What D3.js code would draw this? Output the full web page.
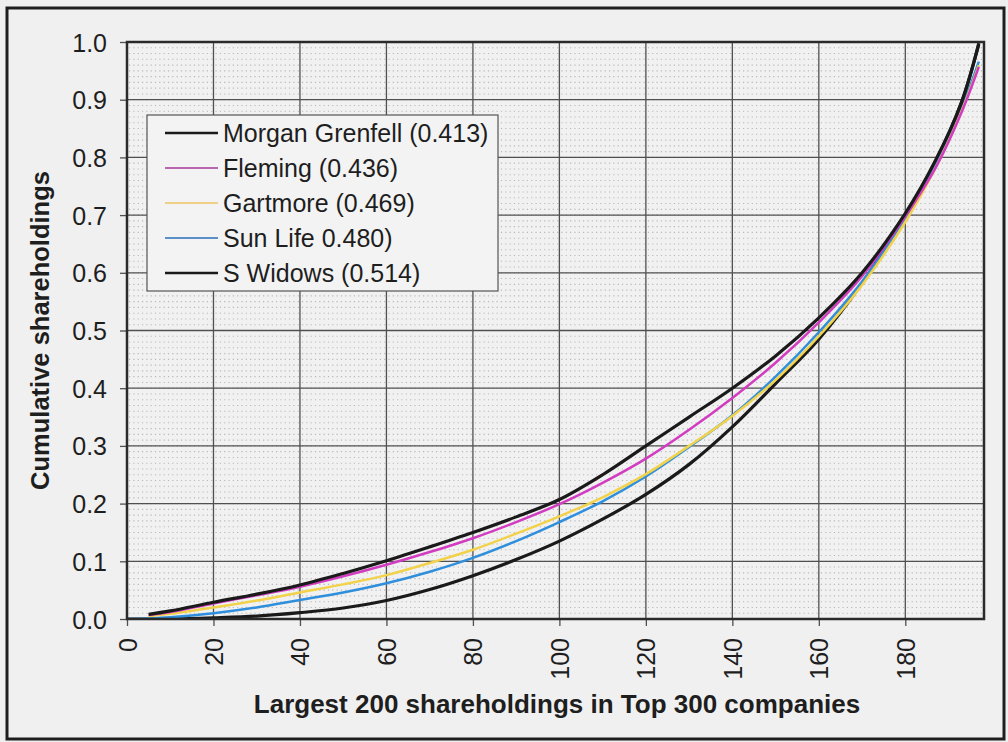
<!DOCTYPE html>
<html>
<head>
<meta charset="utf-8">
<script src="https://cdn.jsdelivr.net/npm/d3@7"></script>
<style>
  html, body { margin: 0; padding: 0; background: #efefef; }
  svg { display: block; font-family: "Liberation Sans", Arial, sans-serif; }
</style>
</head>
<body>
<svg id="chart" width="1008" height="742"></svg>
<script>
// Position in the ranking of the largest 200 shareholdings
const positions = [0, 5, 10, 20, 30, 40, 50, 60, 70, 80, 90, 100, 110, 120, 130, 140, 150, 160, 170, 180, 187, 193, 197];

// Cumulative shareholdings per fund manager (Gini coefficient in the label)
const morganGrenfell = [null, 0.008, 0.014, 0.029, 0.043, 0.059, 0.079, 0.101, 0.125, 0.150, 0.177, 0.207, 0.250, 0.300, 0.350, 0.400, 0.456, 0.522, 0.600, 0.703, 0.795, 0.895, 0.998];
const fleming        = [null, 0.007, 0.012, 0.027, 0.041, 0.056, 0.074, 0.094, 0.116, 0.140, 0.168, 0.199, 0.236, 0.278, 0.328, 0.383, 0.444, 0.514, 0.594, 0.698, 0.782, 0.878, 0.957];
const gartmore       = [null, 0.005, 0.009, 0.020, 0.032, 0.046, 0.060, 0.076, 0.097, 0.120, 0.148, 0.178, 0.211, 0.251, 0.300, 0.352, 0.414, 0.490, 0.579, 0.688, 0.782, 0.880, 0.960];
const sunLife        = [0.000, 0.001, 0.003, 0.010, 0.020, 0.033, 0.046, 0.062, 0.082, 0.106, 0.135, 0.168, 0.204, 0.247, 0.298, 0.353, 0.420, 0.497, 0.585, 0.694, 0.787, 0.885, 0.966];
const sWidows        = [0.000, 0.000, 0.000, 0.002, 0.005, 0.011, 0.019, 0.032, 0.051, 0.075, 0.103, 0.135, 0.173, 0.216, 0.268, 0.333, 0.408, 0.485, 0.582, 0.700, 0.792, 0.896, 0.996];

const seriesNames  = ["Morgan Grenfell (0.413)", "Fleming (0.436)", "Gartmore (0.469)", "Sun Life 0.480)", "S Widows (0.514)"];
const seriesValues = [morganGrenfell, fleming, gartmore, sunLife, sWidows];
const lineColors   = ["#1a1a1a", "#d23cc0", "#f2d24a", "#2f8fdc", "#1a1a1a"];
const legendColors = ["#1a1a1a", "#b866b0", "#f0cf86", "#5a8fc8", "#1a1a1a"];
const lineWidths   = [3.2, 2.5, 2.5, 2.5, 3.2];

const xTicks = [0, 20, 40, 60, 80, 100, 120, 140, 160, 180];
const yTicks = [0, 0.1, 0.2, 0.3, 0.4, 0.5, 0.6, 0.7, 0.8, 0.9, 1.0];

const svg = d3.select("#chart");
const plot = { left: 127, top: 42, width: 857, height: 577 };

const x = d3.scaleLinear().domain([0, 198.2]).range([plot.left, plot.left + plot.width]);
const y = d3.scaleLinear().domain([0, 1]).range([plot.top + plot.height, plot.top]);

// outer frame
svg.append("rect").attr("x", 0).attr("y", 0).attr("width", 1008).attr("height", 742).attr("fill", "#efefef");
svg.append("rect").attr("x", 7).attr("y", 8).attr("width", 997).attr("height", 731)
  .attr("fill", "#f0f0f0").attr("stroke", "#1e1e1e").attr("stroke-width", 3);

// plot background
svg.append("rect").attr("x", plot.left).attr("y", plot.top)
  .attr("width", plot.width).attr("height", plot.height).attr("fill", "#f1f1f1");

// fine dotted minor grid: one dot per unit across, one row per 0.01 up
const xStep = x(1) - x(0);
const minorY = d3.range(1, 100).map(i => i / 100);
svg.append("g").selectAll("line").data(minorY).join("line")
  .attr("x1", plot.left + 2).attr("x2", plot.left + plot.width)
  .attr("y1", d => y(d)).attr("y2", d => y(d))
  .attr("stroke", "#b8b8b8").attr("stroke-width", 1.1)
  .attr("stroke-dasharray", `1.2 ${xStep - 1.2}`);

// major gridlines
svg.append("g").selectAll("line").data(xTicks.filter(d => d > 0)).join("line")
  .attr("x1", d => x(d)).attr("x2", d => x(d))
  .attr("y1", plot.top).attr("y2", plot.top + plot.height)
  .attr("stroke", "#505050").attr("stroke-width", 1.3);
svg.append("g").selectAll("line").data(yTicks.filter(d => d > 0 && d < 1)).join("line")
  .attr("x1", plot.left).attr("x2", plot.left + plot.width)
  .attr("y1", d => y(d)).attr("y2", d => y(d))
  .attr("stroke", "#505050").attr("stroke-width", 1.3);

// axes
const yAxis = svg.append("g").attr("transform", `translate(${plot.left},0)`)
  .call(d3.axisLeft(y).tickValues(yTicks).tickFormat(d3.format(".1f")).tickSize(7).tickPadding(13));
const xAxis = svg.append("g").attr("transform", `translate(0,${plot.top + plot.height})`)
  .call(d3.axisBottom(x).tickValues(xTicks).tickSize(7).tickFormat(d3.format("d")));
yAxis.select(".domain").remove();
xAxis.select(".domain").remove();
[yAxis, xAxis].forEach(a => {
  a.selectAll(".tick line").attr("stroke", "#505050").attr("stroke-width", 1.3);
  a.selectAll("text").attr("font-size", 25).attr("fill", "#1e1e1e")
    .attr("font-family", "'Liberation Sans', Arial, sans-serif");
});
yAxis.selectAll("text").attr("dy", "0.36em");
xAxis.selectAll("text")
  .attr("transform", "rotate(-90)")
  .attr("text-anchor", "end")
  .attr("x", -19).attr("y", 0).attr("dy", "0.36em");

// series lines
const line = d3.line()
  .defined(d => d[1] !== null)
  .x(d => x(d[0])).y(d => y(d[1]))
  .curve(d3.curveCatmullRom.alpha(0.5));

svg.append("clipPath").attr("id", "plotclip").append("rect")
  .attr("x", plot.left).attr("y", plot.top - 2).attr("width", plot.width).attr("height", plot.height + 2);

const order = [4, 3, 2, 1, 0];
svg.append("g").attr("clip-path", "url(#plotclip)")
  .selectAll("path").data(order).join("path")
  .attr("d", i => line(positions.map((p, k) => [p, seriesValues[i][k]])))
  .attr("fill", "none")
  .attr("stroke", i => lineColors[i])
  .attr("stroke-width", i => lineWidths[i])
  .attr("stroke-linejoin", "round");

// plot border
svg.append("rect").attr("x", plot.left).attr("y", plot.top)
  .attr("width", plot.width).attr("height", plot.height)
  .attr("fill", "none").attr("stroke", "#2a2a2a").attr("stroke-width", 2.5);

// legend
const lg = svg.append("g").attr("transform", "translate(147,115)");
lg.append("rect").attr("width", 351).attr("height", 176)
  .attr("fill", "#f3f3f3").attr("stroke", "#555").attr("stroke-width", 1.2);
const items = lg.selectAll("g.item").data(seriesNames).join("g")
  .attr("class", "item")
  .attr("transform", (d, i) => `translate(0,${18 + i * 35})`);
items.append("line").attr("x1", 18).attr("x2", 71).attr("y1", 0).attr("y2", 0)
  .attr("stroke", (d, i) => legendColors[i])
  .attr("stroke-width", (d, i) => (i === 0 || i === 4) ? 2.6 : 2.2);
items.append("text").attr("x", 76).attr("y", 0).attr("dy", "0.36em")
  .attr("font-size", 25).attr("fill", "#1e1e1e").text(d => d);

// axis titles
svg.append("text")
  .attr("transform", `translate(40,${plot.top + plot.height / 2}) rotate(-90)`)
  .attr("text-anchor", "middle").attr("dy", "0.36em")
  .attr("font-size", 25.5).attr("font-weight", "bold").attr("fill", "#1e1e1e")
  .text("Cumulative shareholdings");
svg.append("text")
  .attr("x", 557).attr("y", 713)
  .attr("text-anchor", "middle")
  .attr("font-size", 26).attr("font-weight", "bold").attr("fill", "#1e1e1e")
  .text("Largest 200 shareholdings in Top 300 companies");
</script>
</body>
</html>
